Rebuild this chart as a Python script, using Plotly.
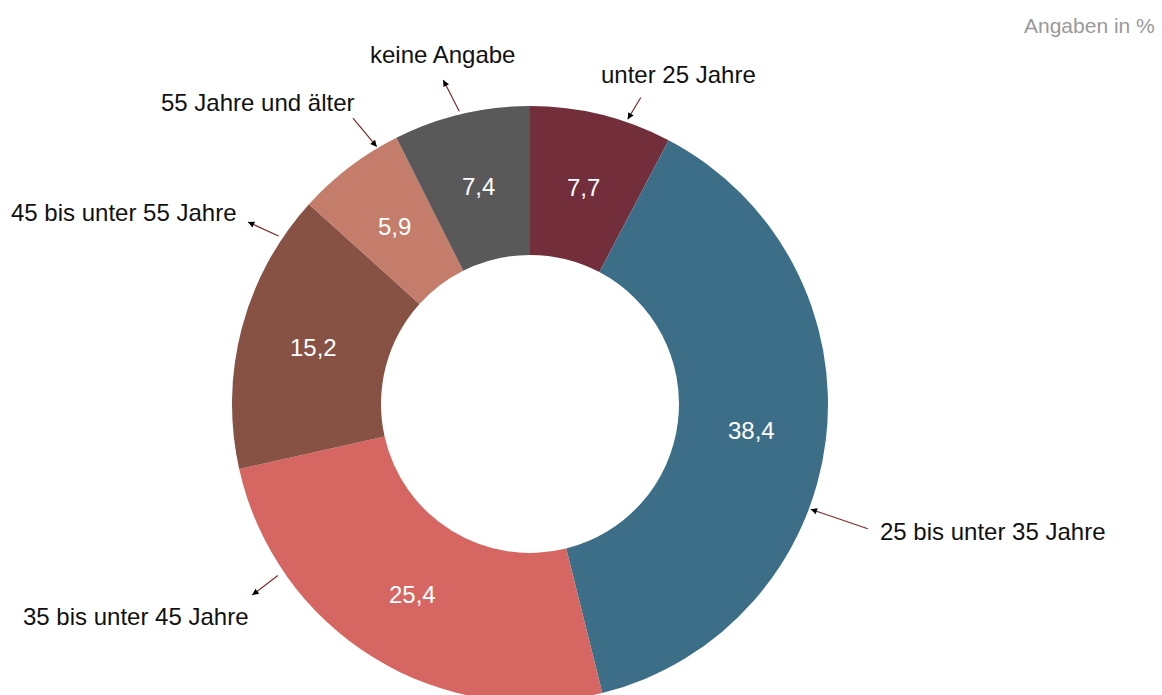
import math
import plotly.graph_objects as go

# ---- data ----
categories = ["unter 25 Jahre", "25 bis unter 35 Jahre", "35 bis unter 45 Jahre",
              "45 bis unter 55 Jahre", "55 Jahre und älter", "keine Angabe"]
values = [7.7, 38.4, 25.4, 15.2, 5.9, 7.4]
value_labels = [f"{v:.1f}".replace(".", ",") for v in values]
unit_note = "Angaben in %"

# ---- style ----
colors = ["#722F3B", "#3D6E88", "#D66662", "#875244", "#C47D6A", "#595959"]
FONT = "Liberation Sans, Arial, sans-serif"
W, H = 1162, 702
CX, TOP, R = 530, 106, 298
HOLE = 0.5
CY = TOP + R

# label placement (pixels): text centre, leader end at label side, leader end at ring side,
# and which end carries the small black arrow head
label_layout = [
    dict(text=(678, 75), lab=(641.7, 96.0), ring=(627.7, 119.3), head="ring"),
    dict(text=(992, 531), lab=(869.3, 529.3), ring=(810.7, 509.3), head="ring"),
    dict(text=(135, 616), lab=(252.3, 595.0), ring=(279.3, 574.3), head="label"),
    dict(text=(123, 212), lab=(248.0, 222.0), ring=(280.0, 236.7), head="label"),
    dict(text=(257, 102), lab=(351.7, 116.7), ring=(376.7, 146.7), head="ring"),
    dict(text=(443, 55), lab=(443.3, 80.0), ring=(460.0, 112.7), head="label"),
]

def px(x):
    return x / W

def py(y):
    return 1 - y / H

fig = go.Figure(go.Pie(
    labels=categories,
    values=values,
    textinfo="none",
    marker=dict(colors=colors, line=dict(width=0)),
    hole=HOLE,
    sort=False,
    direction="clockwise",
    rotation=0,
    showlegend=False,
    hoverinfo="label+value",
    domain=dict(x=[px(CX - R), px(CX + R)], y=[0, (H - TOP) / H]),
))

annotations = []

# value labels in the middle of each ring segment
total = sum(values)
cum = 0.0
r_mid = R * (1 + HOLE) / 2
for v, lab in zip(values, value_labels):
    ang = 2 * math.pi * (cum + v / 2) / total
    cum += v
    annotations.append(dict(
        x=px(CX + r_mid * math.sin(ang)), y=py(CY - r_mid * math.cos(ang)),
        xref="paper", yref="paper", text=lab, showarrow=False,
        xanchor="center", yanchor="middle",
        font=dict(size=24, color="white", family=FONT)))

for cat, lay in zip(categories, label_layout):
    tx, ty = lay["text"]
    annotations.append(dict(
        x=px(tx), y=py(ty), xref="paper", yref="paper", text=cat, showarrow=False,
        xanchor="center", yanchor="middle",
        font=dict(size=24, color="#111111", family=FONT)))
    if lay["head"] == "ring":
        hx, hy = lay["ring"]
        tlx, tly = lay["lab"]
    else:
        hx, hy = lay["lab"]
        tlx, tly = lay["ring"]
    # leader line
    annotations.append(dict(
        x=px(hx), y=py(hy), xref="paper", yref="paper", text="",
        showarrow=True, arrowhead=0, arrowwidth=1.2, arrowcolor="#7F2A2A",
        ax=tlx - hx, ay=tly - hy, standoff=0, startstandoff=0))
    # small black head
    dx, dy = tlx - hx, tly - hy
    L = (dx ** 2 + dy ** 2) ** 0.5
    annotations.append(dict(
        x=px(hx), y=py(hy), xref="paper", yref="paper", text="",
        showarrow=True, arrowhead=2, arrowsize=0.9, arrowwidth=1.4, arrowcolor="#000000",
        ax=dx / L * 4, ay=dy / L * 4, standoff=0, startstandoff=0))

annotations.append(dict(
    x=px(1157), y=py(25), xref="paper", yref="paper", text=unit_note, showarrow=False,
    xanchor="right", yanchor="middle", font=dict(size=21, color="#999999", family=FONT)))

fig.update_layout(
    width=W, height=H,
    margin=dict(l=0, r=0, t=0, b=0),
    paper_bgcolor="white", plot_bgcolor="white",
    annotations=annotations,
    font=dict(family=FONT),
)

fig.write_html(
    "out.html",
    config={"displayModeBar": False},
    post_script="document.body.style.margin='0';document.body.style.overflow='hidden';"
                "document.documentElement.style.overflow='hidden';",
)
